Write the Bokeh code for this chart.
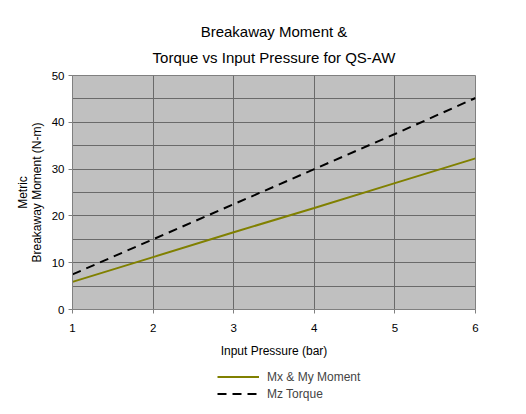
from bokeh.plotting import figure
from bokeh.layouts import column
from bokeh.models import (Title, Legend, LegendItem, FixedTicker, ColumnDataSource, Range1d)
from bokeh.embed import file_html
from bokeh.resources import INLINE

pressure = [1, 2, 3, 4, 5, 6]
mx_my_moment = [5.9, 11.2, 16.5, 21.7, 27.0, 32.3]
mz_torque = [7.5, 15.0, 22.5, 30.0, 37.5, 45.2]
x_ticks = [1, 2, 3, 4, 5, 6]
y_ticks = [0, 10, 20, 30, 40, 50]
y_grid = [0, 5, 10, 15, 20, 25, 30, 35, 40, 45, 50]
series_labels = ["Mx & My Moment", "Mz Torque"]
title_lines = ["Breakaway Moment &", "Torque vs Input Pressure for QS-AW"]

FONT = "Liberation Sans"
MX_COLOR = "#808000"
MZ_COLOR = "black"
MZ_DASH = "9 6"

src = ColumnDataSource(dict(p=pressure, mx=mx_my_moment, mz=mz_torque))

p = figure(width=510, height=360, output_backend="svg", toolbar_location=None,
           x_range=Range1d(1, 6), y_range=Range1d(0, 50),
           min_border_left=72, min_border_right=35, min_border_top=75, min_border_bottom=51,
           background_fill_color="#C0C0C0", border_fill_color="white")
p.title = None
p.outline_line_color = "#808080"
p.outline_line_width = 1

t2 = Title(text=title_lines[1], align="center",
           text_font=FONT, text_font_size="15px", text_font_style="normal",
           text_color="black", standoff=19)
t1 = Title(text=title_lines[0], align="center",
           text_font=FONT, text_font_size="15px", text_font_style="normal",
           text_color="black", standoff=-4)
p.add_layout(t2, "above")
p.add_layout(t1, "above")

p.line("p", "mx", source=src, line_color=MX_COLOR, line_width=2)
p.line("p", "mz", source=src, line_color=MZ_COLOR, line_width=2, line_dash=MZ_DASH)

for ax in (p.xaxis[0], p.yaxis[0]):
    ax.axis_line_color = "#808080"
    ax.major_tick_line_color = "#808080"
    ax.major_tick_out = 4
    ax.major_tick_in = 0
    ax.minor_tick_line_color = None
    ax.major_label_text_font = FONT
    ax.major_label_text_font_size = "11.5px"
    ax.major_label_text_color = "black"
    ax.axis_label_text_font = FONT
    ax.axis_label_text_font_size = "12px"
    ax.axis_label_text_font_style = "normal"
    ax.axis_label_text_color = "black"
    ax.axis_label_text_line_height = 1.0

p.xaxis.ticker = FixedTicker(ticks=x_ticks)
p.yaxis.ticker = FixedTicker(ticks=y_ticks)
p.xaxis.axis_label = "Input Pressure (bar)"
p.yaxis.axis_label = "Metric\nBreakaway Moment (N-m)"
p.xaxis.major_label_standoff = 10
p.xaxis.axis_label_standoff = 9
p.yaxis.major_label_standoff = 4
p.yaxis.axis_label_standoff = 5

p.xgrid.ticker = FixedTicker(ticks=x_ticks)
p.ygrid.ticker = FixedTicker(ticks=y_grid)
p.xgrid.grid_line_color = "#6a6a6a"
p.ygrid.grid_line_color = "#6a6a6a"

# legend strip below the chart (its own small canvas, lines kept out of view)
q = figure(width=510, height=54, output_backend="svg", toolbar_location=None,
           x_range=Range1d(100, 101), y_range=Range1d(100, 101),
           x_axis_type=None, y_axis_type=None,
           min_border=0, outline_line_color=None,
           background_fill_color="white", border_fill_color="white")
q.xgrid.visible = False
q.ygrid.visible = False
g1 = q.line("p", "mx", source=src, line_color=MX_COLOR, line_width=2)
g2 = q.line("p", "mz", source=src, line_color=MZ_COLOR, line_width=2, line_dash=MZ_DASH)

legend = Legend(items=[LegendItem(label=series_labels[0], renderers=[g1]),
                       LegendItem(label=series_labels[1], renderers=[g2])],
                location=(145, 13), orientation="vertical",
                border_line_color=None, background_fill_alpha=0,
                label_text_font=FONT, label_text_font_size="12px",
                glyph_width=42, glyph_height=15, label_height=15, label_width=20,
                label_standoff=8, spacing=2, padding=0, margin=0)
q.add_layout(legend, "center")

layout = column(p, q, spacing=0)
open("out.html", "w").write(file_html(layout, INLINE))
